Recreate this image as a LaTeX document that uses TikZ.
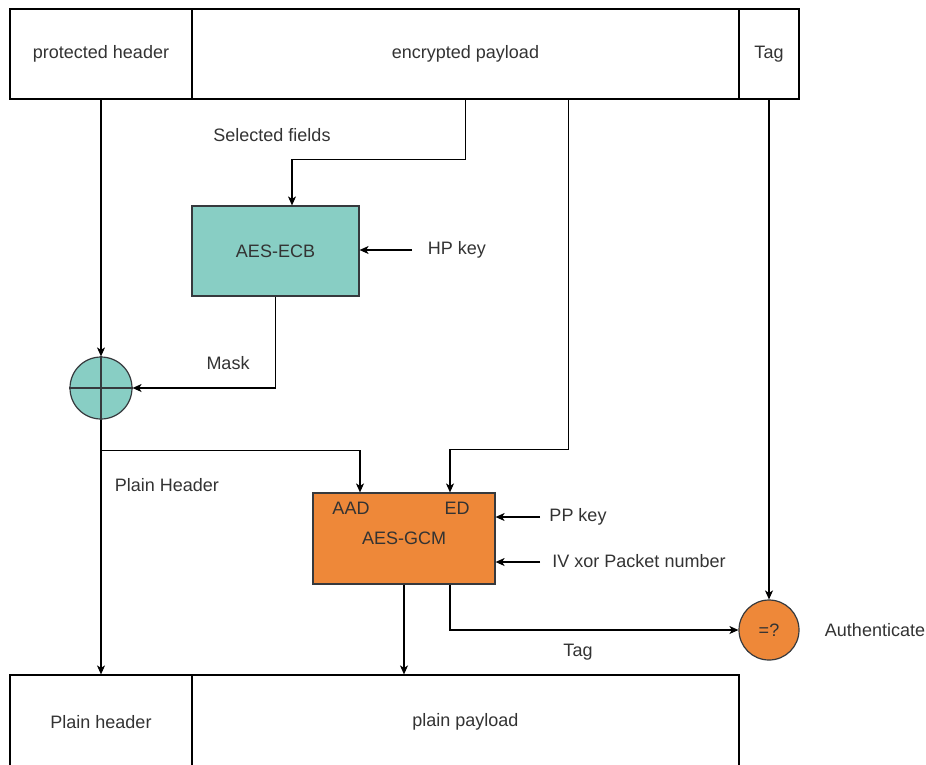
\documentclass[tikz,border=0pt]{standalone}
\usepackage{fontspec}
\setmainfont{Liberation Sans}
\usetikzlibrary{arrows.meta}
\definecolor{teal1}{RGB}{136,206,196}
\definecolor{orng}{RGB}{238,136,57}
\definecolor{edge}{RGB}{54,57,61}
\definecolor{txt}{RGB}{51,51,51}
\tikzset{
  cell/.style={draw=black, line width=1.2pt, inner sep=0pt, text=txt, font=\fontsize{18}{20}\selectfont},
  proc/.style={draw=edge, line width=1.2pt, inner sep=0pt, text=txt, font=\fontsize{18}{20}\selectfont},
  lbl/.style={text=txt, inner sep=2pt, font=\fontsize{18}{20}\selectfont},
  arr/.style={line width=1.2pt, -{Stealth[length=9pt,width=8pt,inset=2.5pt]}},
  ln/.style={line width=1.2pt}
}
\begin{document}
\begin{tikzpicture}[x=1pt,y=-1pt]
\clip (0,0) rectangle (926,764);
\fill[white] (0,0) rectangle (926,764);
% top row
\node[cell, minimum width=182pt, minimum height=90pt] (ph) at (101,54) {protected header};
\node[cell, minimum width=547pt, minimum height=90pt] (ep) at (465.5,54) {encrypted payload};
\node[cell, minimum width=60pt, minimum height=90pt] (tag) at (769,54) {Tag};
% bottom row (runs past the lower edge)
\node[cell, minimum width=182pt, minimum height=94pt] (plh) at (101,722) {Plain header};
\node[cell, minimum width=547pt, minimum height=94pt] (pp) at (465.5,722) {plain payload};
% processing blocks
\node[proc, fill=teal1, minimum width=167pt, minimum height=90pt] (ecb) at (275.5,251) {AES-ECB};
\node[proc, fill=orng, minimum width=182pt, minimum height=91pt] (gcm) at (404,538.5) {AES-GCM};
\node[lbl] (aad) at (351,508) {AAD};
\node[lbl] (ed) at (457,508) {ED};
\node[proc, circle, fill=teal1, minimum size=62pt] (xor) at (101,388) {};
\draw[edge, line width=1.2pt] (xor.north) -- (xor.south) (xor.west) -- (xor.east);
\node[proc, circle, fill=orng, minimum size=60pt] (eq) at (769,630) {=?};
% labels
\node[lbl] (sel) at (272,135) {Selected fields};
\node[lbl] (hpk) at (457,250) {HP key};
\node[lbl] (mask) at (228,363) {Mask};
\node[lbl] (plhl) at (167,485) {Plain Header};
\node[lbl] (ppk) at (578,517) {PP key};
\node[lbl] (iv) at (639,561) {IV xor Packet number};
\node[lbl] (tagl) at (578,652) {Tag};
\node[lbl] (auth) at (875,630) {Authenticate};
\coordinate (hpk0) at (412,250);
\coordinate (ppk0) at (540,517);
\coordinate (iv0) at (540,562);
% connectors
\draw[arr] (ph.south) -- (xor.north);
\draw[arr] (ep.south) -- ++(0,60) -| ([xshift=16.5pt]ecb.north);
\draw[arr] (hpk0) -- (ecb.east |- hpk0);
\draw[arr] (ecb.south) |- (xor.east);
\draw[arr] (xor.south) -- (plh.north);
\draw[arr] (xor.south) ++(0,31) -| ([xshift=-44pt]gcm.north);
\draw[arr] ([xshift=103pt]ep.south) -- ++(0,350) -| ([xshift=46pt]gcm.north);
\draw[arr] (ppk0) -- (gcm.east |- ppk0);
\draw[arr] (iv0) -- (gcm.east |- iv0);
\draw[arr] (gcm.south) -- (pp.north -| gcm.south);
\draw[arr] ([xshift=46pt]gcm.south) |- (eq.west);
\draw[arr] (tag.south) -- (eq.north);
\end{tikzpicture}
\end{document}
